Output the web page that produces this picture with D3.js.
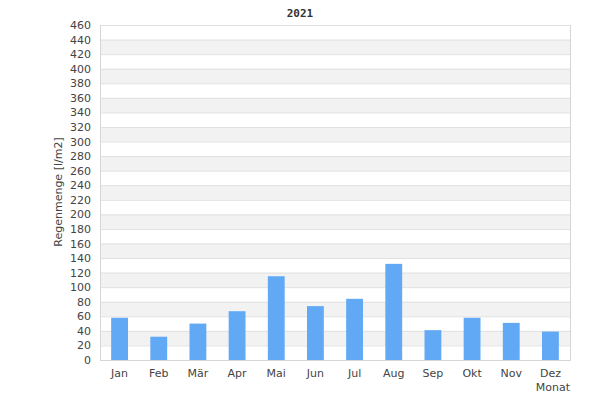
<!DOCTYPE html>
<html><head><meta charset="utf-8">
<script src="https://cdn.jsdelivr.net/npm/d3@7"></script>
<style>body{margin:0;background:#fff}</style>
</head><body><svg id="c" width="600" height="400"></svg>
<script>
const months = ["Jan","Feb","Mär","Apr","Mai","Jun","Jul","Aug","Sep","Okt","Nov","Dez"];
const rain = [58,32,50,67,115,74,84,132,41,58,51,39];
const yTicks = d3.range(0,461,20);
const title = "2021";
const yLabel = "Regenmenge [l/m2]";
const xLabel = "Monat";

const svg = d3.select("#c");
const L=100,R=570,T=25,B=360;
const x = d3.scaleBand().domain(months).range([L,R]).paddingInner(0.57).paddingOuter(0.285);
const y = d3.scaleLinear().domain([0,460]).range([B,T]);
const font = "DejaVu Sans, sans-serif";

// bands
const bands = yTicks.slice(0,-1).filter(v => v % 40 === 20);
svg.append("g").selectAll("rect").data(bands).join("rect")
  .attr("x",L).attr("width",R-L)
  .attr("y",d=>y(d+20)).attr("height",d=>y(d)-y(d+20))
  .attr("fill","#f2f2f2");
// grid
svg.append("g").selectAll("line").data(yTicks).join("line")
  .attr("x1",L).attr("x2",R).attr("y1",d=>y(d)+0.5).attr("y2",d=>y(d)+0.5)
  .attr("stroke","#e0e0e0");
// frame
svg.append("line").attr("x1",L+0.5).attr("x2",L+0.5).attr("y1",T).attr("y2",B+1).attr("stroke","#d6d6d6");
svg.append("line").attr("x1",R+0.5).attr("x2",R+0.5).attr("y1",T).attr("y2",B+1).attr("stroke","#d6d6d6");
svg.append("line").attr("x1",L).attr("x2",R+1).attr("y1",B+0.5).attr("y2",B+0.5).attr("stroke","#d6d6d6");

// bars
svg.append("g").selectAll("rect").data(rain).join("rect")
  .attr("x",(d,i)=>x(months[i])).attr("width",x.bandwidth())
  .attr("y",d=>y(d)).attr("height",d=>B-y(d))
  .attr("fill","#62a9f5");

// y axis
const ya = svg.append("g").attr("transform",`translate(${L},0)`)
  .call(d3.axisLeft(y).tickValues(yTicks).tickSize(0).tickPadding(9));
ya.select(".domain").remove();
ya.selectAll("text").attr("font-family",font).attr("font-size",11).attr("fill","#444");

// x axis
const xa = svg.append("g").attr("transform",`translate(0,${B})`)
  .call(d3.axisBottom(x).tickSize(0).tickPadding(9));
xa.select(".domain").remove();
xa.selectAll("text").attr("font-family",font).attr("font-size",11).attr("fill","#444");

svg.append("text").attr("x",300).attr("y",17).attr("text-anchor","middle")
  .attr("font-family","DejaVu Sans Mono, monospace").attr("font-weight","bold")
  .attr("font-size",11).attr("fill","#333").text(title);
svg.append("text").attr("transform","translate(62,192) rotate(-90)").attr("text-anchor","middle")
  .attr("font-family",font).attr("font-size",11).attr("fill","#444").text(yLabel);
svg.append("text").attr("x",570).attr("y",391).attr("text-anchor","end")
  .attr("font-family",font).attr("font-size",11).attr("fill","#444").text(xLabel);
</script></body></html>
